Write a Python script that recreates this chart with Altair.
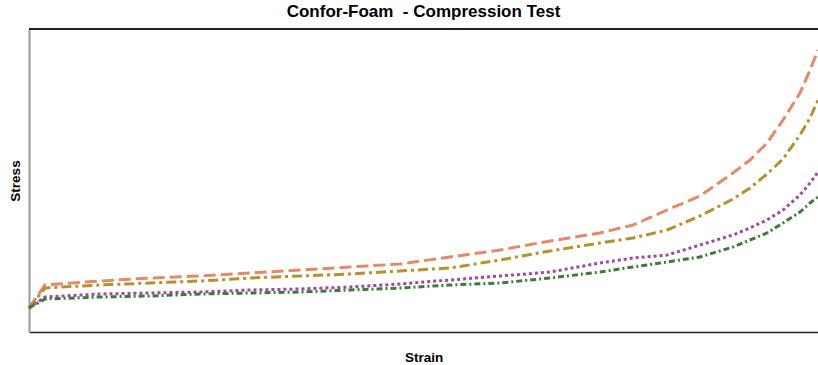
import altair as alt
import pandas as pd

strain = [0, 16, 71, 121, 171, 221, 271, 321, 371, 421, 471, 521, 571, 604, 638, 671, 704, 721, 738, 754, 771, 781, 789]
sample_a = [24, 47, 51, 54, 56, 59, 62, 65, 68, 75, 82, 91, 99, 107, 122, 136, 159, 172, 189, 212, 239, 262, 282]
sample_b = [24, 44, 47, 49, 51, 54, 56, 58, 61, 64, 72, 81, 89, 94, 102, 116, 133, 144, 158, 173, 197, 214, 232]
sample_c = [24, 35, 38, 39, 40, 42, 43, 45, 48, 52, 56, 60, 69, 74, 77, 87, 97, 104, 112, 122, 137, 149, 160]
sample_d = [24, 33, 35, 36, 38, 39, 40, 42, 44, 47, 49, 54, 60, 65, 70, 75, 85, 92, 99, 109, 120, 129, 135]

series_names = ["A", "B", "C", "D"]
series_colors = ["#E5896B", "#B8902C", "#A5479C", "#3F7A3A"]
series_dash = [[12, 5], [10, 4, 3, 4], [3, 3], [6, 3, 2, 3]]

rows = []
for name, vals in zip(series_names, [sample_a, sample_b, sample_c, sample_d]):
    for i, (s, v) in enumerate(zip(strain, vals)):
        rows.append({"series": name, "strain": s, "stress": v, "order": i})
df = pd.DataFrame(rows)

lines = alt.Chart(df).mark_line(strokeWidth=3).encode(
    x=alt.X("strain:Q", title="Strain", scale=alt.Scale(domain=[0, 789], nice=False, zero=False),
            axis=alt.Axis(ticks=False, labels=False, grid=False, domainColor="#222", domainWidth=1.5,
                          titleFont="Liberation Sans", titleFontSize=13.5, titleFontWeight="bold",
                          titleColor="#000", titlePadding=18)),
    y=alt.Y("stress:Q", title="Stress", scale=alt.Scale(domain=[0, 303], nice=False),
            axis=alt.Axis(ticks=False, labels=False, grid=False, domainColor="#999", domainWidth=2,
                          titleFont="Liberation Sans", titleFontSize=13.5, titleFontWeight="bold",
                          titleColor="#000", titlePadding=7)),
    color=alt.Color("series:N", scale=alt.Scale(domain=series_names, range=series_colors), legend=None),
    strokeDash=alt.StrokeDash("series:N", scale=alt.Scale(domain=series_names, range=series_dash), legend=None),
    order="order:Q",
)

top_border = alt.Chart(df).mark_rule(color="#222", strokeWidth=1.5).encode(
    x=alt.value(0), x2=alt.value(789), y=alt.value(0)
)

chart = alt.layer(top_border, lines).properties(
    width=789,
    height=303,
    title=alt.Title("Confor-Foam\u00a0 - Compression Test", font="Liberation Sans", fontSize=17,
                    fontWeight="bold", color="#000", offset=7),
    autosize=alt.AutoSizeParams(type="none"),
    padding={"left": 29, "top": 29, "right": 0, "bottom": 33},
).configure_view(stroke=None).configure(background="white")

chart.save("out.html", embed_options={"renderer": "svg", "actions": False})
